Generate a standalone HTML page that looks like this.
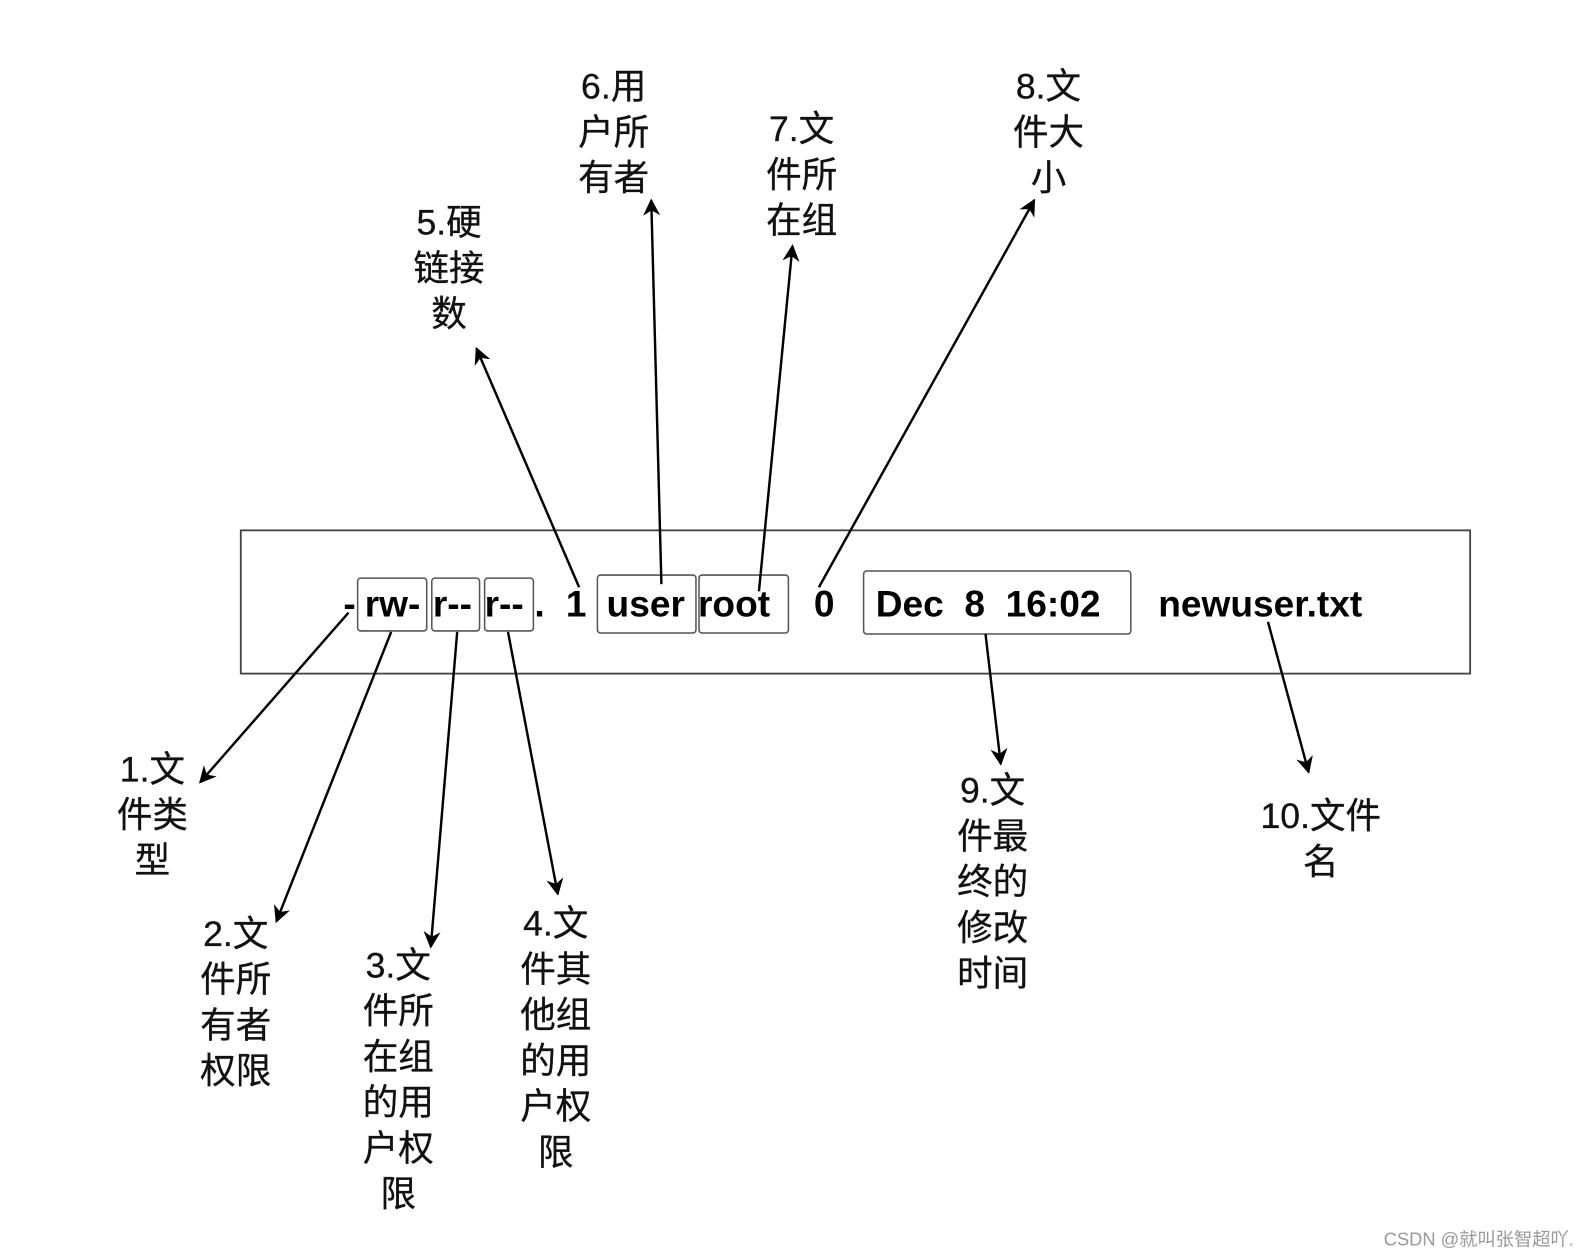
<!DOCTYPE html>
<html><head><meta charset="utf-8"><style>
html,body{margin:0;padding:0;background:#fff;}
svg{display:block;}
.cn{font-family:"Liberation Sans","Noto Sans CJK SC",sans-serif;font-size:35px;fill:#111;text-anchor:middle;stroke:#111;stroke-width:0.3px;}
.b{font-family:"Liberation Sans",sans-serif;font-weight:bold;font-size:36.5px;fill:#000;}
</style></head><body>
<svg width="1592" height="1255" viewBox="0 0 1592 1255" xmlns="http://www.w3.org/2000/svg">
<defs><marker id="a" viewBox="0 0 10 10" refX="9" refY="5" markerWidth="7" markerHeight="7" orient="auto"><path d="M0,0 L10,5 L0,10 L3,5 z" fill="#000"/></marker></defs>
<g transform="scale(1.016)">
<rect x="237" y="522" width="1210" height="141" fill="none" stroke="#444" stroke-width="1.8"/>
<g fill="none" stroke="#555" stroke-width="1.5">
<rect x="352" y="569" width="68" height="52" rx="3"/>
<rect x="425" y="569" width="47" height="52" rx="3"/>
<rect x="477" y="569" width="48" height="52" rx="3"/>
<rect x="588" y="566" width="97" height="57" rx="3"/>
<rect x="688" y="566" width="88" height="57" rx="3"/>
<rect x="850" y="562" width="263" height="62" rx="3"/>
</g>
<g class="b">
<text x="338" y="607">-</text>
<text x="359" y="607">rw-</text>
<text x="426" y="607">r--</text>
<text x="477" y="607">r--</text>
<text x="526" y="607">.</text>
<text x="557" y="607">1</text>
<text x="597" y="607">user</text>
<text x="687" y="607">root</text>
<text x="801" y="607">0</text>
<text x="862" y="607" xml:space="preserve">Dec  8  16:02</text>
<text x="1140" y="607">newuser.txt</text>
</g>
<g stroke="#000" stroke-width="2.4" marker-end="url(#a)">
<line x1="343" y1="603" x2="197" y2="770"/>
<line x1="385" y1="622" x2="272" y2="907"/>
<line x1="450" y1="622" x2="424" y2="932"/>
<line x1="500" y1="622" x2="549" y2="880"/>
<line x1="570" y1="578" x2="469" y2="343"/>
<line x1="651" y1="575" x2="641" y2="197"/>
<line x1="747" y1="582" x2="780" y2="242"/>
<line x1="806" y1="578" x2="1018" y2="197"/>
<line x1="970" y1="624" x2="985" y2="752"/>
<line x1="1248" y1="612" x2="1288" y2="760"/>
</g>
<g class="cn">
<text x="150" y="769">1.文</text><text x="150" y="814">件类</text><text x="150" y="859">型</text>
<text x="232" y="931">2.文</text><text x="232" y="976">件所</text><text x="232" y="1021">有者</text><text x="232" y="1066">权限</text>
<text x="392" y="962">3.文</text><text x="392" y="1007">件所</text><text x="392" y="1052">在组</text><text x="392" y="1097">的用</text><text x="392" y="1142">户权</text><text x="392" y="1187">限</text>
<text x="547" y="921">4.文</text><text x="547" y="966">件其</text><text x="547" y="1011">他组</text><text x="547" y="1056">的用</text><text x="547" y="1101">户权</text><text x="547" y="1146">限</text>
<text x="442" y="231">5.硬</text><text x="442" y="276">链接</text><text x="442" y="321">数</text>
<text x="604" y="97">6.用</text><text x="604" y="142">户所</text><text x="604" y="187">有者</text>
<text x="789" y="139">7.文</text><text x="789" y="184">件所</text><text x="789" y="229">在组</text>
<text x="1032" y="97">8.文</text><text x="1032" y="142">件大</text><text x="1032" y="187">小</text>
<text x="977" y="790">9.文</text><text x="977" y="835">件最</text><text x="977" y="880">终的</text><text x="977" y="925">修改</text><text x="977" y="970">时间</text>
<text x="1300" y="815">10.文件</text><text x="1300" y="860">名</text>
</g>
<text x="1362" y="1226" style="font-family:'Liberation Sans','Noto Sans CJK SC',sans-serif;font-size:18px;fill:#999;">CSDN @就叫张智超吖.</text>
</g>
</svg>
</body></html>
